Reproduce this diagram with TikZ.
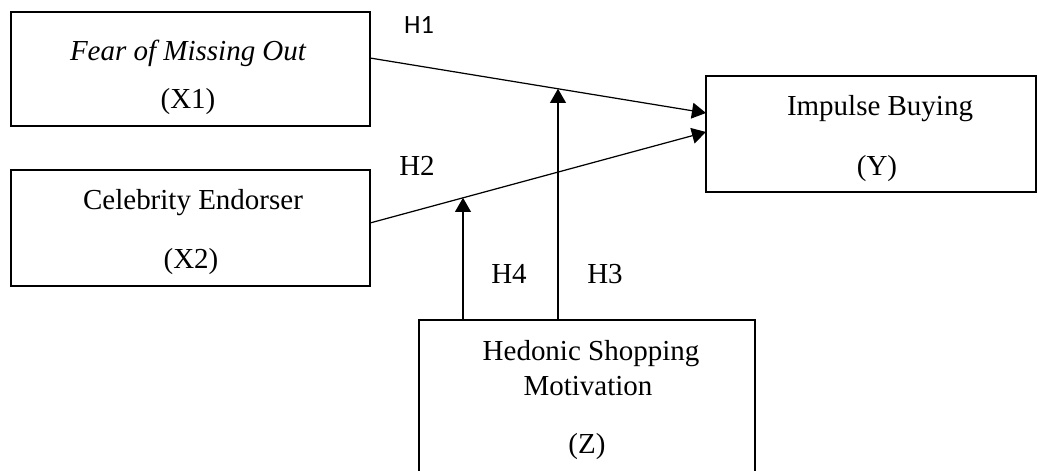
\documentclass[tikz,border=0pt]{standalone}
\usepackage{fontspec}
\setmainfont{Liberation Serif}
\newfontfamily\hfont{Carlito}
\usetikzlibrary{arrows.meta,calc}
\tikzset{
  varbox/.style={draw, line width=1.5pt, inner sep=0pt},
  txt/.style={anchor=base, font=\fontsize{16.5}{19}\selectfont},
  path/.style={line width=0.7pt, -{Triangle[length=8pt,width=9pt]}}
}
\begin{document}
\begin{tikzpicture}[x=0.02cm, y=-0.02cm]
\useasboundingbox (0,0) rectangle (1038,470);
\clip (0,0) rectangle (1038,470);
% boxes
\node[varbox, minimum width=359*0.02cm, minimum height=114*0.02cm] (x1) at (190.5,69) {};
\node[varbox, minimum width=359*0.02cm, minimum height=116*0.02cm] (x2) at (190.5,228) {};
\node[varbox, minimum width=330*0.02cm, minimum height=116*0.02cm] (y) at (871,134) {};
\node[varbox, minimum width=336*0.02cm, minimum height=200*0.02cm] (z) at (587,420) {};
% texts
\node[txt] (x1a) at (188,60) {\itshape Fear of Missing Out};
\node[txt] (x1b) at (188,108) {(X1)};
\node[txt] (x2a) at (193,209) {Celebrity Endorser};
\node[txt] (x2b) at (191,268) {(X2)};
\node[txt] (ya) at (880,115) {Impulse Buying};
\node[txt] (yb) at (877,175) {(Y)};
\node[txt] (za) at (591,360) {Hedonic Shopping};
\node[txt] (zb) at (588,395) {Motivation};
\node[txt] (zc) at (587,453) {(Z)};
% hypotheses
\node[anchor=base, font=\hfont\fontsize{15}{18}\selectfont] (h1) at (419,33) {H1};
\node[txt] (h2) at (417,175) {H2};
\node[txt] (h4) at (509,283) {H4};
\node[txt] (h3) at (605,283) {H3};
% paths
\coordinate (s1) at (370,58);
\coordinate (e1) at (706,113);
\coordinate (s2) at (370,223);
\coordinate (e2) at (706,132);
\coordinate (m1) at ($(s1)!0.5595!(e1)$);
\coordinate (m2) at ($(s2)!0.2768!(e2)$);
\draw[path] (s1) -- (e1);
\draw[path] (s2) -- (e2);
\draw[path] (z.north -| m1) -- (m1);
\draw[path] (z.north -| m2) -- (m2);
\end{tikzpicture}
\end{document}
